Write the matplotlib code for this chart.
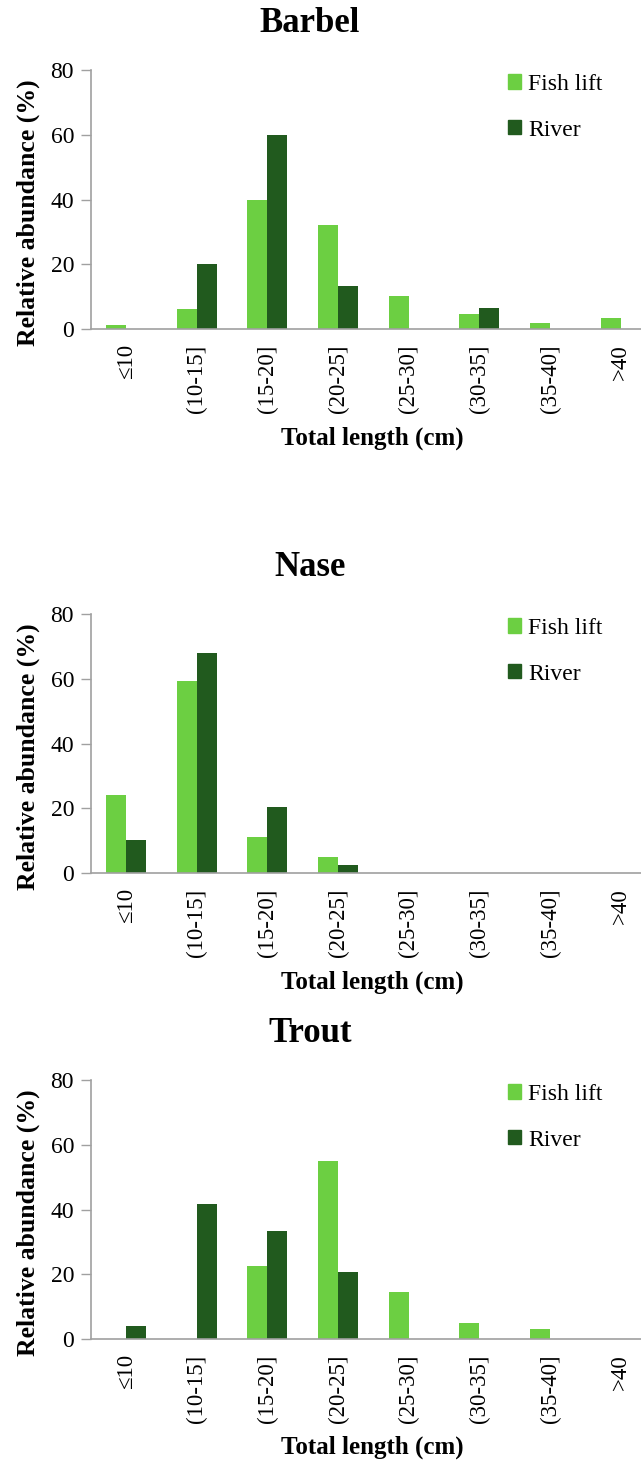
import numpy as np
import matplotlib.pyplot as plt
from matplotlib.patches import Patch

plt.rcParams['font.family'] = ['Liberation Serif', 'DejaVu Serif']

# Length classes
categories = ['≤10', '(10-15]', '(15-20]', '(20-25]', '(25-30]', '(30-35]', '(35-40]', '>40']

# Relative abundance (%) per species
barbel_lift = [1.3, 6.3, 39.8, 32.2, 10.1, 4.5, 1.9, 3.5]
barbel_river = [0, 20.0, 60.0, 13.4, 0, 6.5, 0, 0]

nase_lift = [24.2, 59.4, 11.0, 5.0, 0, 0, 0, 0]
nase_river = [10.3, 68.0, 20.4, 2.4, 0, 0, 0, 0]

trout_lift = [0, 0, 22.6, 54.9, 14.5, 4.8, 3.2, 0]
trout_river = [4.1, 41.7, 33.4, 20.8, 0, 0, 0, 0]

species = ['Barbel', 'Nase', 'Trout']
lift_data = [barbel_lift, nase_lift, trout_lift]
river_data = [barbel_river, nase_river, trout_river]

light = '#6ccf42'
dark = '#215a1e'
spine_col = '#a0a0a0'

W, H = 641, 1461
fig = plt.figure(figsize=(W / 100, H / 100), dpi=100)

# pixel layout of the three panels: (top of y=80, baseline y=0, title y, xlabel y)
panels = [(70, 329, 23, 438), (614, 873, 568, 982), (1080, 1339, 1033, 1447)]
left_px, right_px = 90.7, 656

x = np.arange(len(categories))
w = 0.285

for name, lift, river, (top, bot, ty, ly) in zip(species, lift_data, river_data, panels):
    ax = fig.add_axes([left_px / W, 1 - bot / H, (right_px - left_px) / W, (bot - top) / H])
    ax.bar(x - w / 2, lift, w, color=light, label='Fish lift')
    ax.bar(x + w / 2, river, w, color=dark, label='River')
    ax.set_xlim(-0.5, len(categories) - 0.5)
    ax.set_ylim(0, 80)
    ax.set_yticks([0, 20, 40, 60, 80])
    ax.set_xticks(x)
    ax.set_xticklabels(categories, rotation=90, fontsize=16.5, va='top')
    ax.tick_params(axis='x', length=0, pad=11)
    ax.tick_params(axis='y', labelsize=17, length=7, width=1, color=spine_col, direction='out', pad=5)
    for s in ['top', 'right']:
        ax.spines[s].set_visible(False)
    for s in ['left', 'bottom']:
        ax.spines[s].set_color(spine_col)
        ax.spines[s].set_linewidth(1.2)
    ax.set_ylabel('Relative abundance (%)', fontsize=18.5, fontweight='bold')
    ax.yaxis.set_label_coords(-0.09, 0.45)

    handles = [Patch(color=light), Patch(color=dark)]
    ax.legend(handles, ['Fish lift', 'River'], loc='upper left',
              bbox_to_anchor=((508 - left_px) / (right_px - left_px), 0.985),
              frameon=False, fontsize=17, handlelength=0.55, handleheight=0.55,
              handletextpad=0.3, labelspacing=1.05, borderpad=0, borderaxespad=0)

    fig.text(310 / W, 1 - ty / H, name, ha='center', va='center', fontsize=25, fontweight='bold')
    fig.text(372 / W, 1 - ly / H, 'Total length (cm)', ha='center', va='center',
             fontsize=18, fontweight='bold')

fig.savefig('out.png', dpi=100)
